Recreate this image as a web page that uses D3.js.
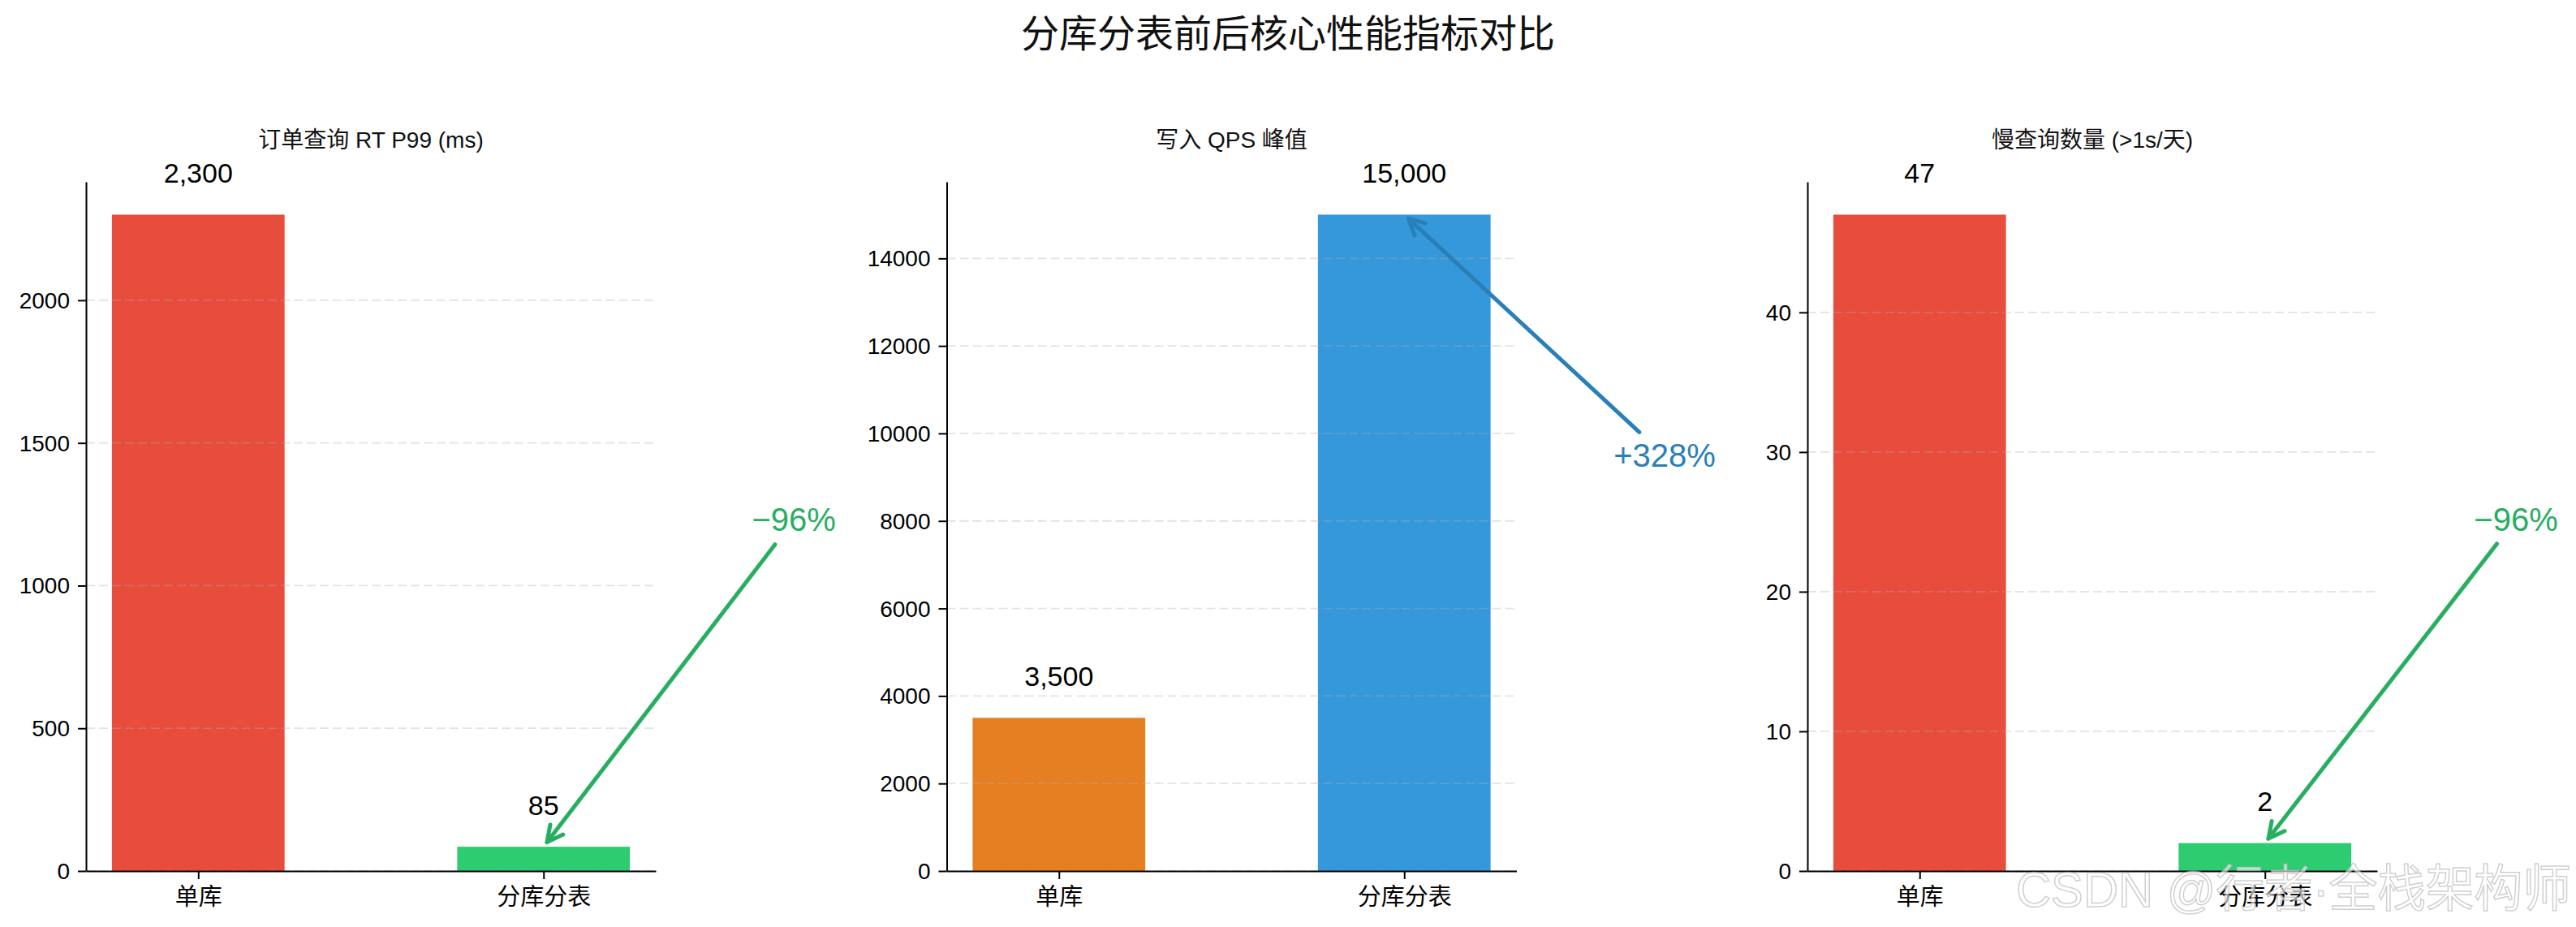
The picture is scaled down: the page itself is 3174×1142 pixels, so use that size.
<!DOCTYPE html>
<html><head><meta charset="utf-8">
<script src="https://cdn.jsdelivr.net/npm/d3@7/dist/d3.min.js"></script>
<style>html,body{margin:0;padding:0;background:#fff;} svg{display:block;}</style>
</head><body>
<svg id="chart" width="3174" height="1142"></svg>
<script>
// ---------------- data ----------------
const mainTitle = "分库分表前后核心性能指标对比";
const categories = ["单库", "分库分表"];
const panelTitles = ["订单查询 RT P99 (ms)", "写入 QPS 峰值", "慢查询数量 (>1s/天)"];
const rtP99 = [2300, 85];
const writeQps = [3500, 15000];
const slowQueries = [47, 2];
const rtTicks = [0, 500, 1000, 1500, 2000];
const qpsTicks = [0, 2000, 4000, 6000, 8000, 10000, 12000, 14000];
const slowTicks = [0, 10, 20, 30, 40];
const changeLabels = ["−96%", "+328%", "−96%"];
const watermark = "CSDN @行者·全栈架构师";

// ---------------- layout / style ----------------
const FONT = "'Liberation Sans','Noto Sans CJK SC',sans-serif";
const plotTop = 224, plotBottom = 1073, plotW = 702;
const panelLeft = i => 106 + i * 1060.5;

const panels = [
  {title: panelTitles[0], values: rtP99, ticks: rtTicks, change: changeLabels[0],
   colors: ["#e74c3c", "#2ecc71"], arrow: "#27ae60", textX: 1.725, textYFrac: 0.535},
  {title: panelTitles[1], values: writeQps, ticks: qpsTicks, change: changeLabels[1],
   colors: ["#e67e22", "#3498db"], arrow: "#2980b9", textX: 1.754, textYFrac: 0.633},
  {title: panelTitles[2], values: slowQueries, ticks: slowTicks, change: changeLabels[2],
   colors: ["#e74c3c", "#2ecc71"], arrow: "#27ae60", textX: 1.727, textYFrac: 0.536}
];

const svg = d3.select("#chart");
svg.append("rect").attr("width", 3174).attr("height", 1142).attr("fill", "#fff");

svg.append("text").text(mainTitle)
  .attr("x", 1587).attr("y", 41)
  .attr("text-anchor", "middle").attr("dominant-baseline", "central")
  .attr("font-family", FONT).attr("font-size", 47).attr("fill", "#111");

const fmt = d3.format(",");

panels.forEach((p, pi) => {
  const max = d3.max(p.values);
  const g = svg.append("g").attr("transform", `translate(${panelLeft(pi)},0)`);
  const x = d3.scaleLinear().domain([-0.325, 1.325]).range([0, plotW]);
  const y = d3.scaleLinear().domain([0, max * 1.05]).range([plotBottom, plotTop]);
  const bw = 0.5;

  // bars
  g.selectAll("rect.bar").data(p.values).join("rect").attr("class", "bar")
    .attr("x", (d, i) => x(i - bw / 2))
    .attr("width", x(bw / 2) - x(-bw / 2))
    .attr("y", d => y(d))
    .attr("height", d => y(0) - y(d))
    .attr("fill", (d, i) => p.colors[i]);

  // grid
  g.selectAll("line.grid").data(p.ticks).join("line").attr("class", "grid")
    .attr("x1", 0).attr("x2", plotW)
    .attr("y1", d => y(d)).attr("y2", d => y(d))
    .attr("stroke", "#b0b0b0").attr("stroke-opacity", 0.35)
    .attr("stroke-width", 1.8).attr("stroke-dasharray", "11,5");

  // axes
  const ya = g.append("g").call(d3.axisLeft(y).tickValues(p.ticks).tickFormat(d3.format("d"))
    .tickSize(10).tickSizeOuter(0).tickPadding(10));
  const xa = g.append("g").attr("transform", `translate(0,${plotBottom})`)
    .call(d3.axisBottom(x).tickValues([0, 1]).tickFormat(i => categories[i])
      .tickSize(10).tickSizeOuter(0));
  [ya, xa].forEach(a => {
    a.select(".domain").attr("stroke", "#000").attr("stroke-width", 2);
    a.selectAll(".tick line").attr("stroke", "#000").attr("stroke-width", 2);
    a.selectAll(".tick text").attr("fill", "#000").attr("font-family", FONT);
  });
  ya.selectAll(".tick text").attr("font-size", 28).attr("dy", null)
    .attr("dominant-baseline", "central");
  xa.selectAll(".tick text").attr("font-size", 29).attr("dy", null)
    .attr("y", 32).attr("dominant-baseline", "central");

  // subplot title
  g.append("text").text(p.title)
    .attr("x", plotW / 2).attr("y", 172)
    .attr("text-anchor", "middle").attr("dominant-baseline", "central")
    .attr("font-family", FONT).attr("font-size", 28).attr("fill", "#111");

  // value labels
  g.selectAll("text.val").data(p.values).join("text").attr("class", "val")
    .text(d => fmt(d))
    .attr("x", (d, i) => x(i))
    .attr("y", d => y(d + max * 0.04) - 7)
    .attr("text-anchor", "middle")
    .attr("font-family", FONT).attr("font-size", 34).attr("fill", "#000");

  // annotation
  const fs = 40;
  const cx = x(p.textX), cy = y(max * p.textYFrac);
  const t = g.append("text").text(p.change)
    .attr("x", cx).attr("y", cy)
    .attr("text-anchor", "middle").attr("dominant-baseline", "central")
    .attr("font-family", FONT).attr("font-size", fs).attr("fill", p.arrow);
  const halfW = t.node().getComputedTextLength() / 2, halfH = fs * 0.5;
  const tx = x(1), ty = y(p.values[1]);
  let dx = tx - cx, dy = ty - cy;
  const len = Math.hypot(dx, dy); dx /= len; dy /= len;
  const t0 = Math.min(halfW / Math.abs(dx), halfH / Math.abs(dy)) + 13;
  const sx = cx + dx * t0, sy = cy + dy * t0;
  const ex = tx - dx * 7, ey = ty - dy * 7;
  g.append("line").attr("x1", sx).attr("y1", sy).attr("x2", ex).attr("y2", ey)
    .attr("stroke", p.arrow).attr("stroke-width", 5).attr("stroke-linecap", "round");
  const ang = 27 * Math.PI / 180, hl = 22;
  const bx = -dx, by = -dy;
  const rot = a => [bx * Math.cos(a) - by * Math.sin(a), bx * Math.sin(a) + by * Math.cos(a)];
  const r1 = rot(ang), r2 = rot(-ang);
  g.append("path")
    .attr("d", `M${ex + r1[0] * hl},${ey + r1[1] * hl}L${ex},${ey}L${ex + r2[0] * hl},${ey + r2[1] * hl}`)
    .attr("fill", "none").attr("stroke", p.arrow).attr("stroke-width", 5)
    .attr("stroke-linecap", "round").attr("stroke-linejoin", "round");
});

// watermark
svg.append("text").text(watermark)
  .attr("x", 2484).attr("y", 1117)
  .attr("textLength", 684).attr("lengthAdjust", "spacingAndGlyphs")
  .attr("font-family", FONT).attr("font-size", 62)
  .attr("fill", "#ffffff").attr("fill-opacity", 0.6)
  .attr("stroke", "#a0a0a0").attr("stroke-opacity", 0.5).attr("stroke-width", 1.5);
</script>
</body></html>
